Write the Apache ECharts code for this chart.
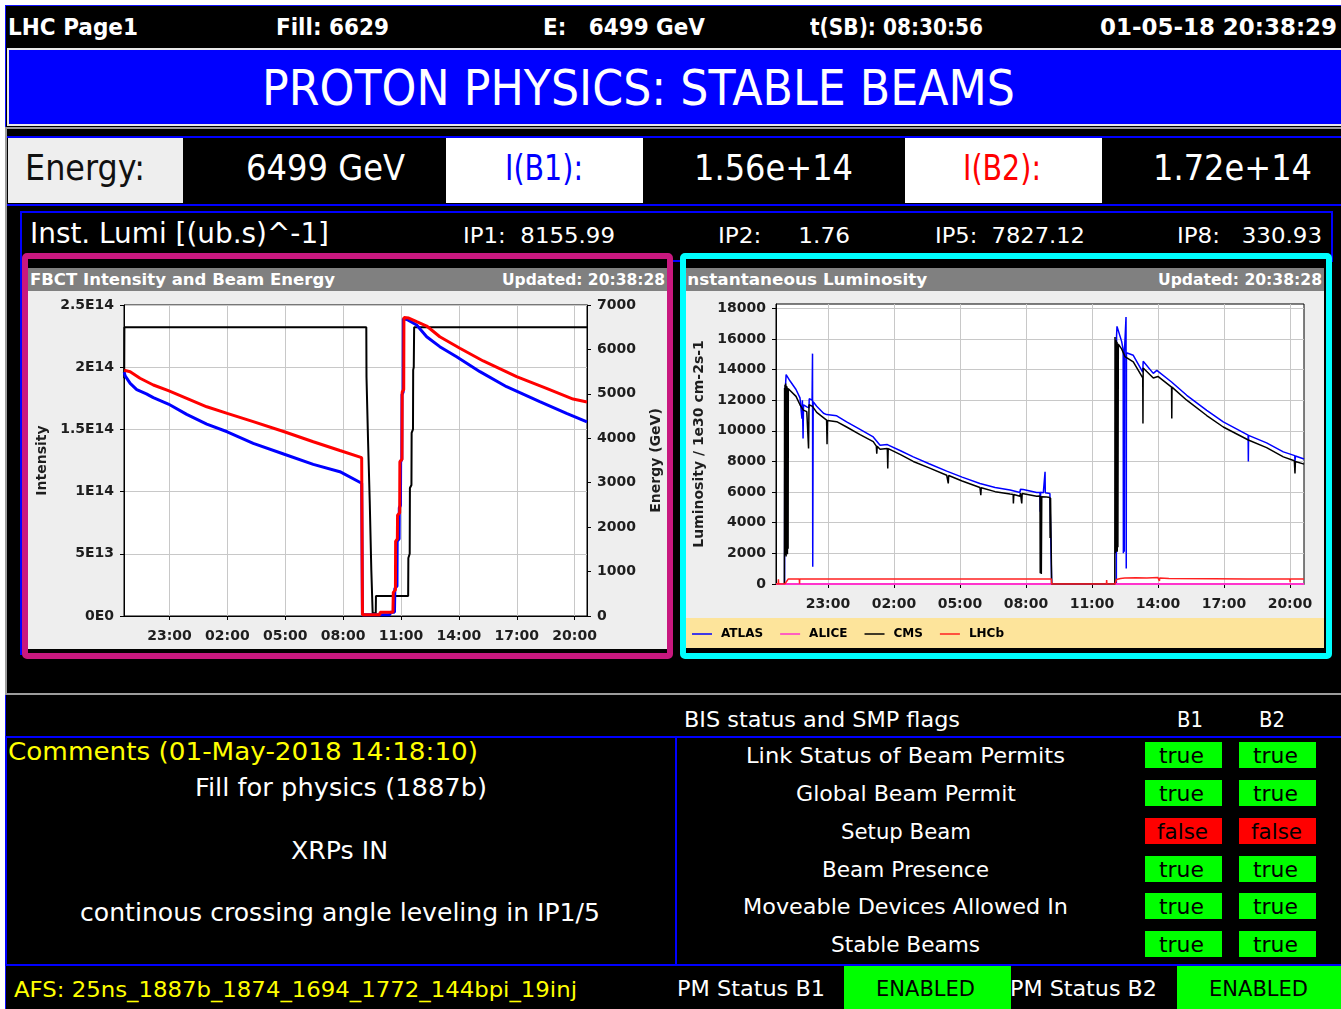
<!DOCTYPE html>
<html>
<head>
<meta charset="utf-8">
<title>LHC Page1</title>
<script src="https://cdn.jsdelivr.net/npm/echarts@6/dist/echarts.min.js"></script>
<style>
  html, body { margin: 0; padding: 0; background: #fff; }
  #page { position: relative; width: 1341px; height: 1009px; overflow: hidden; background: #fff;
          font-family: "DejaVu Sans", "Noto Sans", sans-serif; }
  .box { position: absolute; box-sizing: border-box; }
  .t { position: absolute; white-space: pre; transform-origin: 0 50%; }
  .chart { position: absolute; }
</style>
</head>
<body>
<div id="page"></div>
<script>
// ---------------- data ----------------
// Time is in hours relative to 00:00 on 01-May-2018 (negative = 30-Apr evening).
const timeMin = -3.36;
const timeMax = 20.64;
const timeTickHours = [-1, 2, 5, 8, 11, 14, 17, 20];
const timeTickLabels = ['23:00', '02:00', '05:00', '08:00', '11:00', '14:00', '17:00', '20:00'];

// FBCT intensity axis (units of 1e14 charges) and beam energy axis (GeV)
const intensityTicks = [0, 0.5, 1, 1.5, 2, 2.5];
const intensityTickLabels = ['0E0', '5E13', '1E14', '1.5E14', '2E14', '2.5E14'];
const energyTicks = [0, 1000, 2000, 3000, 4000, 5000, 6000, 7000];

// Luminosity axis (1e30 cm-2 s-1)
const lumiTicks = [0, 2000, 4000, 6000, 8000, 10000, 12000, 14000, 16000, 18000];

// Beam energy, GeV
const energyGeV = [
  [-3.35, 5350], [-3.34, 6499], [9.20, 6499], [9.21, 5380], [9.29, 3960], [9.38, 2540],
  [9.46, 1035], [9.53, 60], [9.69, 60], [9.70, 450], [11.37, 450], [11.38, 1305],
  [11.45, 1400], [11.46, 2880], [11.54, 2950], [11.55, 4120], [11.62, 4200], [11.63, 5540],
  [11.66, 5600], [11.68, 6499], [20.64, 6499]
];

// Beam 1 intensity, 1e14 charges
const b1Intensity = [
  [-3.35, 1.96], [-3.30, 1.93], [-3.04, 1.87], [-2.70, 1.82], [-2.20, 1.785], [-1.84, 1.755],
  [-1.06, 1.704], [-0.11, 1.621], [0.93, 1.543], [1.99, 1.481], [3.34, 1.388], [4.95, 1.300],
  [6.45, 1.219], [7.83, 1.16], [8.96, 1.067], [9.00, 0.01], [10.42, 0.01], [10.45, 0.03],
  [10.66, 0.03], [10.68, 0.22], [10.79, 0.24], [10.80, 0.60], [10.90, 0.62], [10.91, 0.87],
  [10.97, 0.89], [10.98, 1.24], [11.04, 1.26], [11.05, 1.78], [11.11, 1.80], [11.12, 2.39],
  [11.35, 2.38], [11.81, 2.339], [12.33, 2.245], [13.01, 2.165], [13.88, 2.084], [15.09, 1.964],
  [16.47, 1.843], [18.19, 1.723], [19.58, 1.629], [20.64, 1.56]
];

// Beam 2 intensity, 1e14 charges
const b2Intensity = [
  [-3.35, 1.975], [-3.04, 1.964], [-2.53, 1.911], [-1.84, 1.857], [-1.06, 1.811], [-0.11, 1.750],
  [0.93, 1.682], [1.99, 1.629], [3.34, 1.562], [4.95, 1.481], [6.45, 1.401], [7.83, 1.33],
  [8.96, 1.273], [9.00, 0.01], [9.90, 0.01], [9.92, 0.03], [10.58, 0.03], [10.60, 0.19],
  [10.71, 0.21], [10.72, 0.60], [10.81, 0.62], [10.82, 0.81], [10.93, 0.83], [10.94, 1.24],
  [11.05, 1.26], [11.06, 1.80], [11.14, 1.82], [11.15, 2.40], [11.40, 2.395], [11.81, 2.366],
  [12.33, 2.331], [13.01, 2.245], [14.05, 2.152], [15.26, 2.050], [16.99, 1.924], [18.54, 1.830],
  [19.92, 1.744], [20.64, 1.72]
];

// Instantaneous luminosity per experiment
const atlasLumi = [
  [-2.97, 0], [-2.96, 12200], [-2.93, 12900], [-2.90, 13670], [-2.72, 13250], [-2.45, 12700],
  [-2.27, 12150], [-2.20, 12100], [-2.18, 10800], [-2.16, 12000], [-2.13, 9500], [-2.11, 11700],
  [-1.96, 11560], [-1.86, 11500], [-1.85, 12100], [-1.72, 12000], [-1.70, 15040], [-1.69, 1130],
  [-1.67, 11900], [-1.51, 11600], [-1.20, 11150], [-1.06, 11060], [-0.60, 10980], [-0.15, 10580],
  [0.46, 10100], [1.06, 9600], [1.37, 9060], [1.40, 9180], [1.70, 9100], [2.30, 8700],
  [2.88, 8300], [3.60, 7850], [4.40, 7370], [5.10, 6980], [5.91, 6565], [6.60, 6300],
  [7.28, 6130], [7.73, 5980], [7.75, 6180], [7.88, 6170], [8.49, 5980], [8.56, 6080],
  [8.64, 5980], [8.65, 4715], [8.67, 6000], [8.79, 5950], [8.86, 5950], [8.87, 7320],
  [8.88, 5950], [9.09, 5910], [9.16, 5880], [9.17, 0], [12.11, 0], [12.12, 16200],
  [12.14, 16820], [12.35, 15840], [12.42, 15300], [12.43, 2000], [12.44, 15250], [12.47, 2100],
  [12.48, 15220], [12.54, 15200], [12.55, 17430], [12.56, 1020], [12.57, 15100], [12.88, 14930],
  [13.31, 13840], [13.33, 14540], [13.79, 13750], [13.95, 13950], [14.62, 13190], [15.31, 12320],
  [16.22, 11340], [16.97, 10580], [18.10, 9715], [18.11, 8000], [18.12, 9700], [18.94, 9210],
  [19.70, 8625], [20.22, 8380], [20.23, 8000], [20.25, 8360], [20.64, 8155.99]
];

const aliceLumi = [
  [-3.36, 0], [-2.95, 0], [-2.90, 2], [9.16, 2], [9.17, 0], [12.05, 0], [12.10, 1.8], [20.64, 1.76]
];

const cmsLumi = [
  [-2.98, 0], [-2.97, 12800], [-2.96, 1900], [-2.95, 13000], [-2.93, 2000], [-2.92, 13090],
  [-2.90, 1800], [-2.89, 12950], [-2.87, 2100], [-2.86, 12900], [-2.84, 1950], [-2.83, 12800],
  [-2.81, 2300], [-2.80, 12750], [-2.72, 12650], [-2.45, 12250], [-2.27, 11700], [-2.12, 11350],
  [-1.96, 11250], [-1.89, 11250], [-1.88, 8850], [-1.86, 11700], [-1.70, 11600], [-1.51, 11200],
  [-1.06, 10700], [-1.04, 9130], [-1.02, 10680], [-0.60, 10600], [-0.15, 10250], [0.46, 9750],
  [1.06, 9300], [1.20, 9000], [1.22, 8500], [1.24, 9000], [1.37, 8800], [1.70, 8850],
  [1.72, 7540], [1.74, 8840], [2.30, 8450], [2.88, 8000], [3.60, 7580], [4.40, 7100],
  [4.47, 6565], [4.49, 7080], [5.10, 6720], [5.91, 6300], [5.95, 5800], [5.97, 6290],
  [6.60, 6030], [7.28, 5880], [7.42, 5850], [7.43, 5260], [7.45, 5840], [7.73, 5730],
  [7.75, 5930], [7.80, 5920], [7.81, 5260], [7.83, 5910], [7.88, 5900], [8.49, 5730],
  [8.56, 5830], [8.64, 5750], [8.65, 700], [8.67, 5740], [8.70, 650], [8.72, 5700],
  [8.79, 5690], [8.94, 5680], [9.09, 5650], [9.10, 3000], [9.12, 5620], [9.16, 5600],
  [9.17, 0], [12.04, 0], [12.05, 16120], [12.06, 2000], [12.08, 15950], [12.09, 2100],
  [12.11, 15900], [12.12, 2700], [12.14, 15800], [12.15, 2100], [12.17, 15700], [12.18, 2400],
  [12.20, 15650], [12.35, 15350], [12.50, 14850], [12.88, 14500], [13.31, 13450], [13.32, 10480],
  [13.33, 14100], [13.79, 13450], [14.00, 13550], [14.62, 12850], [14.63, 10800], [14.64, 12850],
  [15.31, 12000], [16.22, 11000], [16.97, 10250], [18.11, 9400], [18.94, 8900], [19.70, 8300],
  [20.20, 8050], [20.23, 7215], [20.25, 8000], [20.64, 7827.12]
];

const lhcbLumi = [
  [-3.36, 0], [-3.26, 0], [-3.25, 300], [-3.24, 0], [-2.96, 0], [-2.80, 330], [-2.30, 330],
  [-2.29, 20], [-2.28, 330], [9.16, 330], [9.17, 0], [11.66, 0], [11.67, 260], [11.68, 0],
  [12.05, 0], [12.12, 300], [12.30, 360], [12.50, 390], [13.00, 400], [13.50, 390], [14.00, 420],
  [14.07, 200], [14.08, 390], [14.50, 360], [16.50, 340], [18.05, 330], [18.06, 400], [18.07, 330],
  [20.00, 330], [20.01, 120], [20.02, 330], [20.64, 330.93]
];

// BIS status and SMP flags: [label, B1, B2]
const bisFlags = [
  ['Link Status of Beam Permits', true, true],
  ['Global Beam Permit', true, true],
  ['Setup Beam', false, false],
  ['Beam Presence', true, true],
  ['Moveable Devices Allowed In', true, true],
  ['Stable Beams', true, true]
];

// ---------------- page helpers ----------------
const FONT = '"DejaVu Sans", "Noto Sans", sans-serif';
const page = document.getElementById('page');
const last = arr => arr[arr.length - 1][1];

function addBox(x, y, w, h, css, parent) {
  const el = document.createElement('div');
  el.className = 'box';
  el.style.cssText = `left:${x}px;top:${y}px;width:${w}px;height:${h}px;` + (css || '');
  (parent || page).appendChild(el);
  return el;
}

// Text placed by its left edge and vertical centre, squeezed/stretched to a given width.
function addText(str, x, yc, w, size, color, bold, parent) {
  const el = document.createElement('div');
  el.className = 't';
  el.textContent = str;
  el.style.cssText = `left:${x}px;top:${(yc - size * 0.6).toFixed(1)}px;font-size:${size}px;` +
    `line-height:${(size * 1.2).toFixed(1)}px;color:${color};font-weight:${bold ? 'bold' : 'normal'};`;
  (parent || page).appendChild(el);
  if (w) {
    const nat = el.getBoundingClientRect().width;
    el.style.transform = `scaleX(${(w / nat).toFixed(4)})`;
  }
  return el;
}

function measure(str, size, bold) {
  const el = addText(str, 0, -100, 0, size, '#000', bold);
  const w = el.getBoundingClientRect().width;
  el.remove();
  return w;
}

// ---------------- dashboard frame ----------------
addBox(5, 5, 1336, 1004, 'background:#000;border-top:1px solid #1010ff;border-left:1px solid #1010ff;');

// header line
addText('LHC Page1', 8, 28, 130, 23, '#fff', true);
addText('Fill: 6629', 276, 28, 113, 23, '#fff', true);
addText('E:   ' + last(energyGeV) + ' GeV', 543, 28, 162, 23, '#fff', true);
addText('t(SB): 08:30:56', 810, 28, 173, 23, '#fff', true);
addText('01-05-18 20:38:29', 1100, 28, 237, 23, '#fff', true);

// machine mode banner
addBox(7, 48, 1336, 78, 'background:#0000ff;border:2px solid #e8e8e8;border-right:none;');
addText('PROTON PHYSICS: STABLE BEAMS', 262, 88, 753, 50, '#fff', false);

// upper panel outline
addBox(5, 127, 1340, 568, 'border:2px solid #9c9c9c;');

// energy and intensity row
addBox(7, 136, 1336, 2, 'background:#0000ff;');
addBox(7, 204, 1336, 2, 'background:#0000ff;');
addBox(8, 138, 175, 65, 'background:#eeeeee;');
addBox(446, 138, 197, 65, 'background:#fff;');
addBox(905, 138, 197, 65, 'background:#fff;');
addText('Energy:', 25, 168, 120, 36, '#111', false);
addText(last(energyGeV) + ' GeV', 246, 168, 159, 36, '#fff', false);
addText('I(B1):', 505, 168, 78, 36, '#0000ff', false);
addText((last(b1Intensity) * 1e14).toExponential(2), 694, 168, 159, 36, '#fff', false);
addText('I(B2):', 963, 168, 78, 36, '#ff0000', false);
addText((last(b2Intensity) * 1e14).toExponential(2), 1153, 168, 159, 36, '#fff', false);

// instantaneous luminosity row
addBox(20, 211, 1313, 51, 'border:2px solid #0000ff;');
addBox(20, 262, 2, 393, 'background:#0000ff;');
addText('Inst. Lumi [(ub.s)^-1]', 30, 234, 299, 28, '#fff', false);
addText('IP1:  ' + last(atlasLumi).toFixed(2), 463, 236, 152, 22, '#fff', false);
addText('IP2:     ' + last(aliceLumi).toFixed(2), 718, 236, 132, 22, '#fff', false);
addText('IP5:  ' + last(cmsLumi).toFixed(2), 935, 236, 150, 22, '#fff', false);
addText('IP8:   ' + last(lhcbLumi).toFixed(2), 1177, 236, 145, 22, '#fff', false);

// chart panels
addBox(22, 253, 651, 406, 'background:#000;border:6px solid #c8187f;border-radius:5px;');
addBox(28, 268, 639, 23, 'background:#808080;');
addBox(28, 291, 639, 358, 'background:#eeeeee;');
addText('FBCT Intensity and Beam Energy', 30, 280, 305, 16, '#fff', true);
addText('Updated: 20:38:28', 502, 280, 163, 16, '#fff', true);

addBox(680, 253, 652, 406, 'background:#000;border:6px solid #00ffff;border-radius:5px;');
const lumiBar = addBox(686, 268, 638, 23, 'background:#808080;overflow:hidden;');
addBox(686, 291, 638, 327, 'background:#eeeeee;');
addBox(686, 618, 638, 30, 'background:#fde49b;');
{
  // the title is wider than its bar, so its first letter is cut off at the left edge
  const full = 'Instantaneous Luminosity';
  const wFull = measure(full, 16, true);
  const wI = measure('I', 16, true);
  const s = 240 / (wFull - wI);
  const el = addText(full, 0, 12, 0, 16, '#fff', true, lumiBar);
  el.style.transform = `scaleX(${s.toFixed(4)})`;
  el.style.left = (1 - wI * s).toFixed(1) + 'px';
}
addText('Updated: 20:38:28', 1158, 280, 164, 16, '#fff', true);

// ---------------- lower panels ----------------
addText('BIS status and SMP flags', 684, 720, 276, 22, '#fff', false);
addText('B1', 1177, 720, 26, 22, '#fff', false);
addText('B2', 1259, 720, 26, 22, '#fff', false);

addBox(5, 736, 672, 230, 'border:2px solid #0000ff;');
addBox(675, 736, 670, 230, 'border:2px solid #0000ff;');

addText('Comments (01-May-2018 14:18:10)', 8, 752, 470, 25, '#ffff00', false);
addText('Fill for physics (1887b)', 195, 788, 292, 25, '#fff', false);
addText('XRPs IN', 291, 851, 97, 25, '#fff', false);
addText('continous crossing angle leveling in IP1/5', 80, 913, 520, 25, '#fff', false);

const flagRowTop = [742, 780, 818, 856, 893, 931];
const flagLabelPos = [[746, 319], [796, 220], [841, 130], [822, 167], [743, 325], [831, 149]];
bisFlags.forEach((row, i) => {
  const top = flagRowTop[i];
  addText(row[0], flagLabelPos[i][0], top + 14, flagLabelPos[i][1], 22, '#fff', false);
  [[1145, row[1]], [1239, row[2]]].forEach(([bx, ok]) => {
    addBox(bx, top, 77, 26, `background:${ok ? '#00ff00' : '#ff0000'};`);
    if (ok) addText('true', bx + 14, top + 14, 45, 22, '#000', false);
    else addText('false', bx + 12, top + 14, 51, 22, '#000', false);
  });
});

addText('AFS: 25ns_1887b_1874_1694_1772_144bpi_19inj', 14, 990, 563, 22, '#ffff00', false);
addText('PM Status B1', 677, 989, 148, 22, '#fff', false);
addBox(844, 966, 167, 43, 'background:#00ff00;');
addText('ENABLED', 876, 989, 99, 22, '#000', false);
addText('PM Status B2', 1010, 989, 147, 22, '#fff', false);
addBox(1177, 966, 164, 43, 'background:#00ff00;');
addText('ENABLED', 1209, 989, 99, 22, '#000', false);

// ---------------- charts ----------------
const tickFont = { fontFamily: FONT, fontWeight: 'bold', fontSize: 14, color: '#1e1e1e' };
const gridLine = { show: true, lineStyle: { color: '#c8c8c8', width: 1, type: 'solid' } };
const blackLine = { show: true, onZero: false, lineStyle: { color: '#000', width: 1 } };
const timeLabel = v => timeTickLabels[timeTickHours.indexOf(Math.round(v))] || '';

function timeAxis() {
  return {
    type: 'value', min: timeMin, max: timeMax,
    axisLine: blackLine,
    axisTick: { show: true, customValues: timeTickHours, length: 4, lineStyle: { color: '#000' } },
    axisLabel: Object.assign({ customValues: timeTickHours, formatter: timeLabel, margin: 13 }, tickFont),
    splitLine: gridLine
  };
}

function lineSeries(name, data, color, width, yAxisIndex) {
  return {
    name, type: 'line', data, yAxisIndex: yAxisIndex || 0,
    symbol: 'none', showSymbol: false, sampling: null, animation: false,
    lineStyle: { color, width }, itemStyle: { color }, emphasis: { disabled: true }
  };
}

function makeDiv(x, y, w, h) {
  const d = document.createElement('div');
  d.className = 'chart';
  d.style.cssText = `left:${x}px;top:${y}px;width:${w}px;height:${h}px;`;
  page.appendChild(d);
  return d;
}

// FBCT intensity and beam energy
const fbct = echarts.init(makeDiv(28, 291, 639, 358), null, { renderer: 'canvas' });
fbct.setOption({
  animation: false,
  backgroundColor: 'transparent',
  textStyle: { fontFamily: FONT },
  grid: { left: 96, top: 14, width: 463, height: 311, show: true, backgroundColor: '#fff',
          borderColor: '#000', borderWidth: 1, containLabel: false, outerBoundsMode: 'none' },
  xAxis: timeAxis(),
  yAxis: [
    {
      type: 'value', min: 0, max: 2.5, interval: 0.5, position: 'left',
      name: 'Intensity', nameLocation: 'middle', nameGap: 66,
      nameTextStyle: { fontFamily: FONT, fontWeight: 'bold', fontSize: 14, color: '#1e1e1e' },
      axisLine: blackLine,
      axisTick: { show: true, length: 4, lineStyle: { color: '#000' } },
      axisLabel: Object.assign({ margin: 10,
        formatter: v => intensityTickLabels[intensityTicks.indexOf(Math.round(v * 10) / 10)] }, tickFont),
      splitLine: gridLine
    },
    {
      type: 'value', min: 0, max: 7000, interval: 1000, position: 'right',
      name: 'Energy (GeV)', nameLocation: 'middle', nameGap: 62, nameRotate: 90,
      nameTextStyle: { fontFamily: FONT, fontWeight: 'bold', fontSize: 14, color: '#1e1e1e' },
      axisLine: blackLine,
      axisTick: { show: true, length: 4, lineStyle: { color: '#000' } },
      axisLabel: Object.assign({ margin: 10,
        formatter: v => (energyTicks.indexOf(v) >= 0 ? String(v) : '') }, tickFont),
      splitLine: { show: false }
    }
  ],
  series: [
    lineSeries('Energy', energyGeV, '#000', 2, 1),
    lineSeries('B1', b1Intensity, '#0000ff', 3, 0),
    lineSeries('B2', b2Intensity, '#ff0000', 3, 0)
  ]
});

// Instantaneous luminosity
const lumi = echarts.init(makeDiv(686, 291, 638, 358), null, { renderer: 'canvas' });
lumi.setOption({
  animation: false,
  backgroundColor: 'transparent',
  textStyle: { fontFamily: FONT },
  grid: { left: 90, top: 13, width: 528, height: 280, show: true, backgroundColor: '#fff',
          borderColor: '#000', borderWidth: 1, containLabel: false, outerBoundsMode: 'none' },
  legend: {
    left: 6, top: 337, icon: 'rect', itemWidth: 20, itemHeight: 1.5, itemGap: 17, padding: 0,
    itemStyle: { borderWidth: 0 },
    textStyle: { fontFamily: FONT, fontWeight: 'bold', fontSize: 12, color: '#000', padding: [0, 0, 0, 4] },
    data: ['ATLAS', 'ALICE', 'CMS', 'LHCb']
  },
  xAxis: timeAxis(),
  yAxis: {
    type: 'value', min: 0, max: 18280,
    name: 'Luminosity / 1e30 cm-2s-1', nameLocation: 'middle', nameGap: 66,
    nameTextStyle: { fontFamily: FONT, fontWeight: 'bold', fontSize: 14, color: '#1e1e1e' },
    axisLine: blackLine,
    axisTick: { show: true, customValues: lumiTicks, length: 4, lineStyle: { color: '#000' } },
    axisLabel: Object.assign({ customValues: lumiTicks, margin: 10, formatter: v => String(v) }, tickFont),
    splitLine: gridLine
  },
  series: [
    lineSeries('ATLAS', atlasLumi, '#0000ff', 1.5),
    lineSeries('ALICE', aliceLumi, '#ff33cc', 2),
    lineSeries('CMS', cmsLumi, '#000', 1.5),
    lineSeries('LHCb', lhcbLumi, '#ff2020', 1.5)
  ]
});
</script>
</body>
</html>
